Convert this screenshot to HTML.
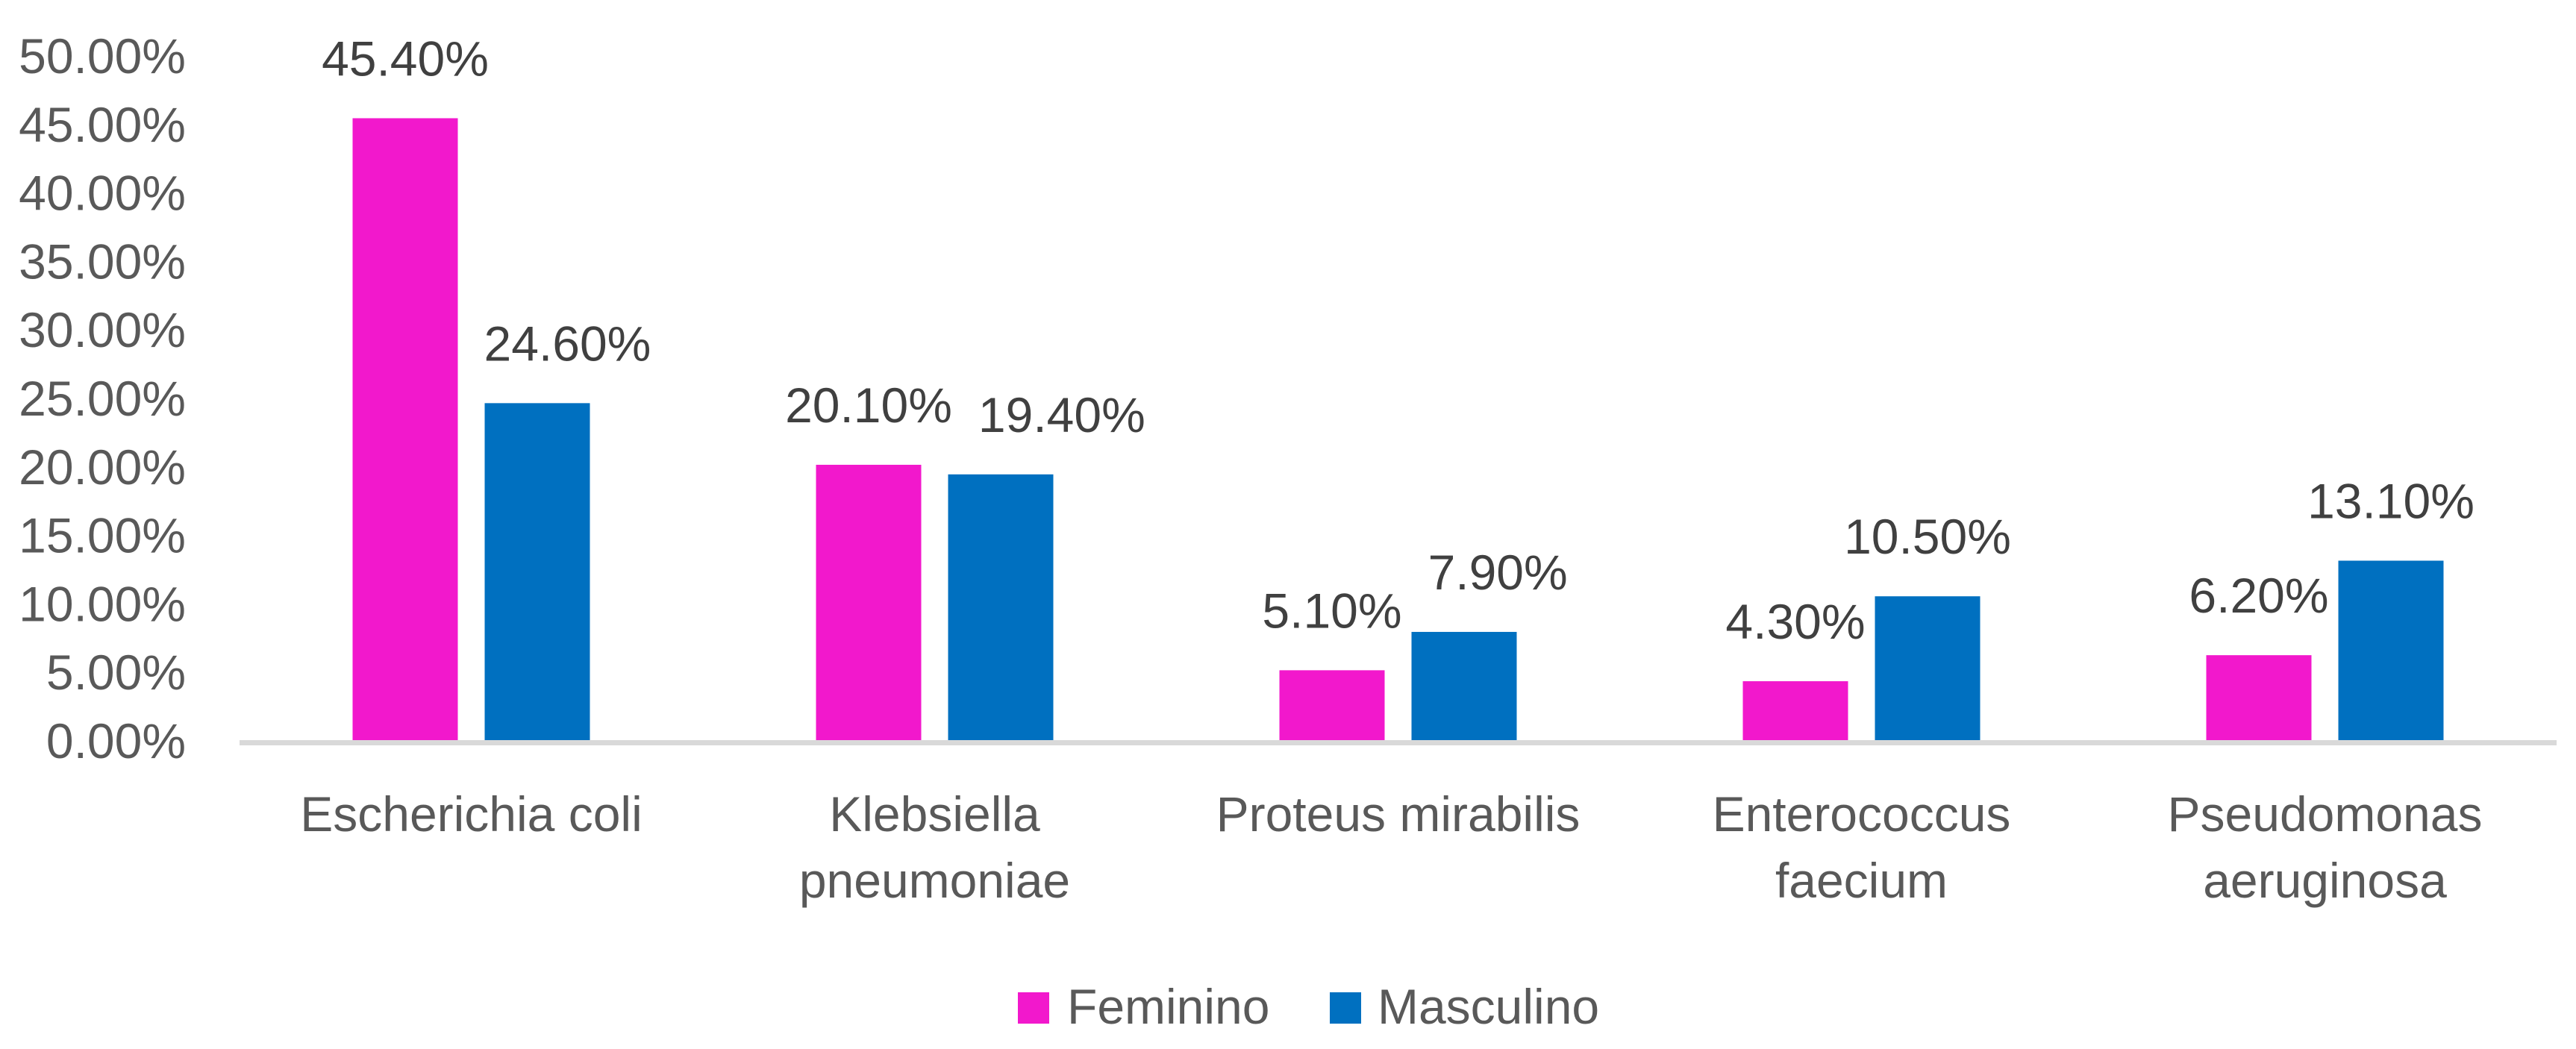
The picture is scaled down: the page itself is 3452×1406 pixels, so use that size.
<!DOCTYPE html>
<html><head><meta charset="utf-8">
<style>
html,body{margin:0;padding:0;background:#fff;}
svg{display:block;font-family:"Liberation Sans",Arial,sans-serif;}
</style></head>
<body>
<svg id="chart" width="3452" height="1406" viewBox="0 0 3452 1406" xmlns="http://www.w3.org/2000/svg">
  <g id="yticks"></g>
  <g id="bars"></g>
  <g id="labels"></g>
  <line x1="321" y1="995.5" x2="3426" y2="995.5" stroke="#D9D9D9" stroke-width="7"/>
  <g id="xcats"></g>
  <g>
    <g>
      <rect x="1364" y="1330" width="42" height="42" fill="#F218CC"/>
      <text x="1430" y="1372" font-size="66" fill="#595959">Feminino</text>
    </g>
    <g>
      <rect x="1782" y="1330" width="42" height="42" fill="#0070C0"/>
      <text x="1846" y="1372" font-size="66" fill="#595959">Masculino</text>
    </g>
  </g>
</svg>
<script>
const categories = [["Escherichia coli"], ["Klebsiella", "pneumoniae"], ["Proteus mirabilis"], ["Enterococcus", "faecium"], ["Pseudomonas", "aeruginosa"]];
const feminino = [45.4, 20.1, 5.1, 4.3, 6.2];
const masculino = [24.6, 19.4, 7.9, 10.5, 13.1];
const yTicks = [0, 5, 10, 15, 20, 25, 30, 35, 40, 45, 50];

const NS = "http://www.w3.org/2000/svg";
const plotLeft = 321, plotRight = 3426, y0 = 992, pxPerPct = 18.36;
const catW = (plotRight - plotLeft) / categories.length;
const barW = 141, off = 88.5, labelGap = 35, labelRise = 57, textH = 52;
function yScale(v){ return y0 - v * pxPerPct; }
function xCenter(i){ return plotLeft + catW * (i + 0.5); }
function mk(tag, attrs, parent){
  const e = document.createElementNS(NS, tag);
  for (const k in attrs) e.setAttribute(k, attrs[k]);
  parent.appendChild(e);
  return e;
}
const gy = document.getElementById('yticks');
yTicks.forEach(t => {
  const el = mk('text', {x: 249, y: yScale(t) + 24, 'text-anchor': 'end', 'font-size': 66, fill: '#595959'}, gy);
  el.textContent = t.toFixed(2) + '%';
  
  
});
const gb = document.getElementById('bars');
const gl = document.getElementById('labels');

categories.forEach((c, i) => {
  const fx = xCenter(i) - off, mx = xCenter(i) + off;
  const fv = feminino[i], mv = masculino[i];
  const r1 = mk('rect', {x: fx - barW/2, y: yScale(fv), width: barW, height: y0 - yScale(fv), fill: '#F218CC'}, gb);
  
  
  const r2 = mk('rect', {x: mx - barW/2, y: yScale(mv), width: barW, height: y0 - yScale(mv), fill: '#0070C0'}, gb);
  
  

  const fBase = yScale(fv) - labelRise;
  const t1 = mk('text', {x: fx, y: fBase, 'text-anchor': 'middle', 'font-size': 66, fill: '#404040'}, gl);
  t1.textContent = fv.toFixed(2) + '%';
  
  
  const fw = t1.getComputedTextLength();
  const fRight = fx + fw/2;

  const mBase = yScale(mv) - labelRise;
  const t2 = mk('text', {x: mx, y: mBase, 'text-anchor': 'start', 'font-size': 66, fill: '#404040'}, gl);
  t2.textContent = mv.toFixed(2) + '%';
  
  
  const mw = t2.getComputedTextLength();
  let left = mx - mw/2;
  // avoid pink bar
  if (mBase > yScale(fv) && left < fx + barW/2 + labelGap) left = fx + barW/2 + labelGap;
  // avoid pink label
  if (Math.abs(mBase - fBase) < textH + 20 && left < fRight + labelGap) left = fRight + labelGap;
  t2.setAttribute('x', left);
});

const gx = document.getElementById('xcats');
categories.forEach((lines, i) => {
  lines.forEach((ln, j) => {
    const t = mk('text', {x: xCenter(i), y: 1114 + j * 89, 'text-anchor': 'middle', 'font-size': 66, fill: '#595959'}, gx);
    t.textContent = ln;
    
    
  });
});
</script>
</body></html>
